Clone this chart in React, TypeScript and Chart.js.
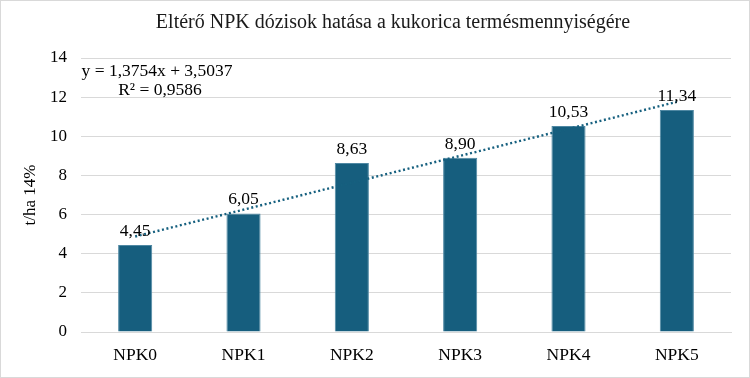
import React, { useEffect, useRef } from "react";
import { Chart, registerables } from "chart.js";

Chart.register(...registerables);

const TITLE = "Eltérő NPK dózisok hatása a kukorica termésmennyiségére";
const Y_TITLE = "t/ha 14%";
const categories = ["NPK0", "NPK1", "NPK2", "NPK3", "NPK4", "NPK5"];
const yields = [4.45, 6.05, 8.63, 8.9, 10.53, 11.34];
const trendValues = [4.88, 6.25, 7.63, 9.0, 10.38, 11.76];
const equationLines = ["y = 1,3754x + 3,5037", "R² = 0,9586"];

const FONT = "'Liberation Serif', 'Times New Roman', serif";
const BAR_COLOR = "#165e7e";

export default function App() {
  const canvasRef = useRef<HTMLCanvasElement | null>(null);

  useEffect(() => {
    document.body.style.margin = "0";
    const canvas = canvasRef.current;
    if (!canvas) return;

    const textPlugin = {
      id: "textPlugin",
      afterDatasetsDraw(chart: any) {
        const ctx = chart.ctx;
        const area = chart.chartArea;
        ctx.save();
        // data labels
        const meta = chart.getDatasetMeta(0);
        ctx.fillStyle = "#000";
        ctx.font = `17.5px ${FONT}`;
        ctx.textAlign = "center";
        ctx.textBaseline = "bottom";
        meta.data.forEach((bar: any, i: number) => {
          const label = yields[i].toFixed(2).replace(".", ",");
          ctx.fillText(label, bar.x, bar.y - 5);
        });
        // equation
        ctx.textBaseline = "middle";
        ctx.fillText(equationLines[0], 157, 71);
        ctx.fillText(equationLines[1], 160, 90);
        // title
        ctx.fillStyle = "#1a1a1a";
        ctx.font = `20px ${FONT}`;
        ctx.fillText(TITLE, 393, 23);
        // y title
        ctx.fillStyle = "#000";
        ctx.font = `17px ${FONT}`;
        ctx.translate(31, (area.top + area.bottom) / 2);
        ctx.rotate(-Math.PI / 2);
        ctx.fillText(Y_TITLE, 0, 0);
        ctx.restore();
      },
    };

    const chart = new Chart(canvas, {
      type: "bar",
      data: {
        labels: categories,
        datasets: [
          {
            type: "bar",
            data: yields,
            backgroundColor: BAR_COLOR,
            borderColor: "#4f88a3",
            borderWidth: 1,
            barPercentage: 1,
            categoryPercentage: 0.315,
            order: 1,
          } as any,
          {
            type: "line",
            data: trendValues,
            borderColor: "#16607f",
            borderWidth: 2.4,
            borderDash: [2, 2.6],
            pointRadius: 0,
            fill: false,
            tension: 0,
            order: 0,
          } as any,
        ],
      },
      options: {
        animation: false,
        responsive: true,
        maintainAspectRatio: false,
        layout: { padding: { top: 58, right: 19, bottom: 0, left: 0 } },
        plugins: {
          legend: { display: false },
          title: { display: false },
          tooltip: { enabled: false },
        },
        scales: {
          x: {
            grid: { display: false, drawTicks: false },
            border: { display: true, color: "#d9d9d9", width: 1 },
            ticks: {
              color: "#000",
              font: { family: FONT, size: 17.5 },
              padding: 13,
            },
            afterFit(scale: any) {
              scale.height = 46;
            },
          },
          y: {
            min: 0,
            max: 14,
            ticks: {
              stepSize: 2,
              color: "#000",
              font: { family: FONT, size: 17 },
              padding: 14,
            },
            grid: { color: "#d9d9d9", lineWidth: 1, drawTicks: false },
            border: { display: false },
            afterFit(scale: any) {
              scale.width = 81;
            },
          },
        },
      },
      plugins: [textPlugin],
    });

    return () => chart.destroy();
  }, []);

  return (
    <div style={{ position: "relative", width: 750, height: 378 }}>
      <canvas ref={canvasRef} />
      <div
        style={{
          position: "absolute",
          inset: 0,
          border: "1px solid #d9d9d9",
          pointerEvents: "none",
        }}
      />
    </div>
  );
}
